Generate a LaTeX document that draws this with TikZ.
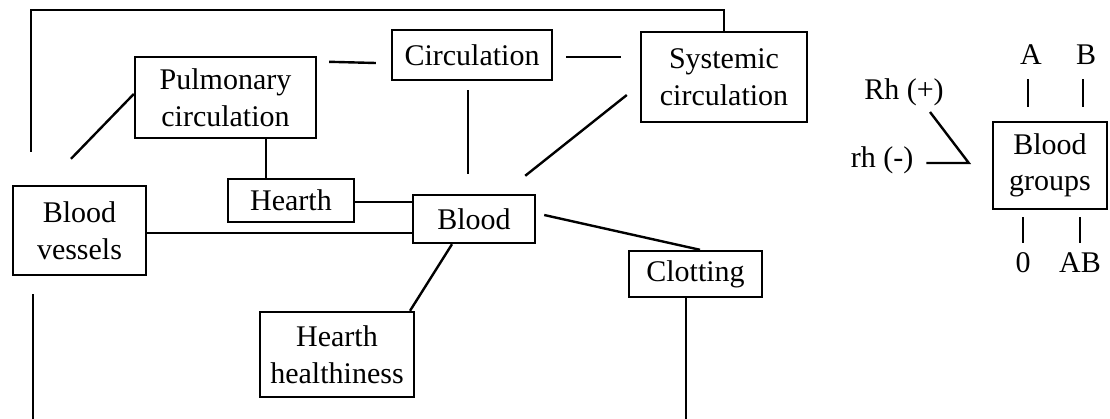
\documentclass[tikz,border=0pt]{standalone}
\usepackage{fontspec}
\setmainfont{Liberation Serif}
\usetikzlibrary{calc}
\begin{document}
\begin{tikzpicture}[x=1pt,y=-1pt,line width=2.4pt,
  every node/.style={font=\fontsize{30}{36.5}\selectfont,inner sep=0pt},
  box/.style={draw,align=center,minimum width=#1},
  lbl/.style={}]
\useasboundingbox (0,0) rectangle (1110,418);

% concept boxes
\node[box=181, minimum height=81] (pulm)    at (225.5,97.5) {Pulmonary\\circulation};
\node[box=160, minimum height=50] (circ)    at (472,55)     {Circulation};
\node[box=166, minimum height=90] (syst)    at (724,77)     {Systemic\\circulation};
\node[box=126, minimum height=43] (heart)   at (291,200.5)  {Hearth};
\node[box=122, minimum height=48] (blood)   at (474,219)    {Blood};
\node[box=133, minimum height=89] (vessels) at (79.5,230.5) {Blood\\vessels};
\node[box=154, minimum height=85] (health)  at (337,354.5)  {Hearth\\healthiness};
\node[box=133, minimum height=46] (clot)    at (695.5,274)  {Clotting};
\node[box=114, minimum height=87] (groups)  at (1050,165.5) {Blood\\groups};

% blood group labels
\node[lbl] (rhp) at (904,92)  {Rh (+)};
\node[lbl] (rhm) at (882,160) {rh (-)};
\node[lbl] (ga)  at (1031,55) {A};
\node[lbl] (gb)  at (1086,55) {B};
\node[lbl] (g0)  at (1023,263) {0};
\node[lbl] (gab) at (1080,263) {AB};

% frame from the vessels over the top to the systemic circulation
\draw ($(vessels.north west)+(19,-33)$) |- ($(syst.north)+(0,-21)$) -- (syst.north);

% links between the concepts
\draw ($(pulm.north east)+(12,6)$) -- ($(circ.west)+(-15,8)$);
\draw ($(circ.east)+(13,2)$) -- ($(syst.west)+(-19,-20)$);
\draw ($(circ.south)+(-4,9)$) -- ($(blood.north)+(-6,-20)$);
\draw ($(syst.west)+(-13,18)$) -- ($(blood.north east)+(-11,-18)$);
\draw ($(pulm.west)+(0,-3.5)$) -- ($(vessels.north)+(-8.5,-26)$);
\draw ($(pulm.south)+(40.5,0)$) -- ($(heart.north)+(-25,0)$);
\draw ($(heart.east)+(0,1.5)$) -- ($(blood.west)+(0,-17)$);
\draw ($(vessels.east)+(0,2.5)$) -- ($(blood.west)+(0,14)$);
\draw ($(blood.south)+(-22,0)$) -- ($(health.north)+(73,0)$);
\draw ($(blood.east)+(8,-4)$) -- ($(clot.north)+(4.5,0)$);
\draw ($(clot.south)+(-9.5,0)$) -- ($(clot.south)+(-9.5,121)$);
\draw ($(vessels.south)+(-46.5,18)$) -- ($(vessels.south)+(-46.5,143)$);

% Rh factor and blood group letters
\coordinate (rhj) at ($(groups.west)+(-23,-2.5)$);
\draw ($(rhp.center)+(26,20)$) -- (rhj) -- ($(rhm.east)+(12,3)$);
\draw ($(ga.south)+(-3,13)$) -- ($(groups.north)+(-22,-14)$);
\draw ($(gb.south)+(-3,13)$) -- ($(groups.north)+(33,-14)$);
\draw ($(groups.south)+(-27,7)$) -- ($(g0.north)+(0,-9)$);
\draw ($(groups.south)+(30,7)$) -- ($(gab.north)+(0,-9)$);
\end{tikzpicture}
\end{document}
